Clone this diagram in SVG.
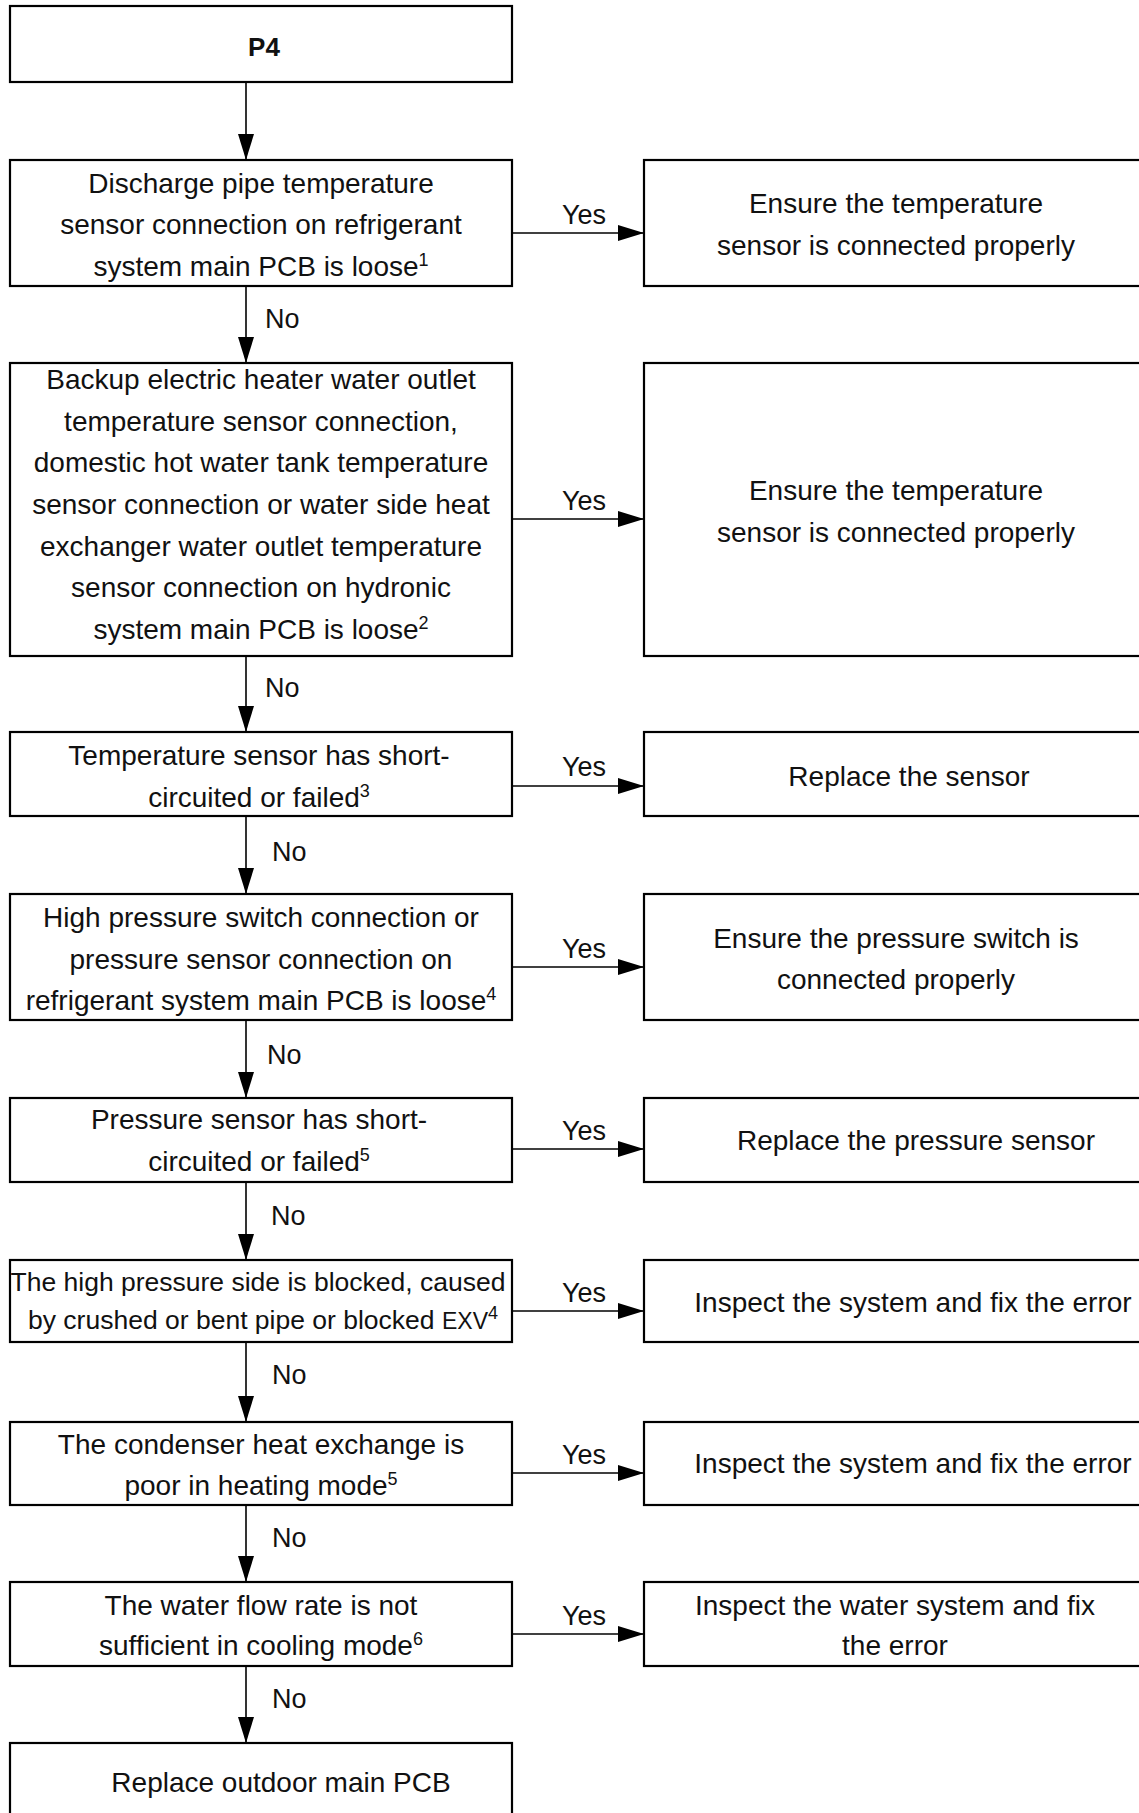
<svg xmlns="http://www.w3.org/2000/svg" width="1139" height="1813" viewBox="0 0 1139 1813">
<defs>
<style>
.box{fill:#fff;stroke:#000;stroke-width:2.2}
.t{font-family:"Liberation Sans",Arial,sans-serif;font-size:28px;fill:#111;text-anchor:middle}
.lbl{font-family:"Liberation Sans",Arial,sans-serif;font-size:27px;fill:#111}
.yes{text-anchor:middle}
.ln{stroke:#000;stroke-width:1.6;fill:none}
.sup{font-size:18px}
</style>
<marker id="ah" viewBox="0 0 26 16" refX="26" refY="8" markerWidth="26" markerHeight="16" markerUnits="userSpaceOnUse" orient="auto">
<path d="M0,0 L26,8 L0,16 Z" fill="#000"/>
</marker>
</defs>
<rect width="1139" height="1813" fill="#fff"/>

<g id="connectors">
<line class="ln" x1="246" y1="82" x2="246" y2="160" marker-end="url(#ah)"/>
<line class="ln" x1="246" y1="286" x2="246" y2="363" marker-end="url(#ah)"/>
<line class="ln" x1="246" y1="656" x2="246" y2="732" marker-end="url(#ah)"/>
<line class="ln" x1="246" y1="816" x2="246" y2="894" marker-end="url(#ah)"/>
<line class="ln" x1="246" y1="1020" x2="246" y2="1098" marker-end="url(#ah)"/>
<line class="ln" x1="246" y1="1182" x2="246" y2="1260" marker-end="url(#ah)"/>
<line class="ln" x1="246" y1="1342" x2="246" y2="1422" marker-end="url(#ah)"/>
<line class="ln" x1="246" y1="1505" x2="246" y2="1582" marker-end="url(#ah)"/>
<line class="ln" x1="246" y1="1666" x2="246" y2="1743" marker-end="url(#ah)"/>
<line class="ln" x1="512" y1="233" x2="644" y2="233" marker-end="url(#ah)"/>
<line class="ln" x1="512" y1="519" x2="644" y2="519" marker-end="url(#ah)"/>
<line class="ln" x1="512" y1="786" x2="644" y2="786" marker-end="url(#ah)"/>
<line class="ln" x1="512" y1="967" x2="644" y2="967" marker-end="url(#ah)"/>
<line class="ln" x1="512" y1="1149" x2="644" y2="1149" marker-end="url(#ah)"/>
<line class="ln" x1="512" y1="1311" x2="644" y2="1311" marker-end="url(#ah)"/>
<line class="ln" x1="512" y1="1473" x2="644" y2="1473" marker-end="url(#ah)"/>
<line class="ln" x1="512" y1="1634" x2="644" y2="1634" marker-end="url(#ah)"/>
<text class="lbl yes" x="584" y="224">Yes</text>
<text class="lbl yes" x="584" y="510">Yes</text>
<text class="lbl yes" x="584" y="776">Yes</text>
<text class="lbl yes" x="584" y="958">Yes</text>
<text class="lbl yes" x="584" y="1140">Yes</text>
<text class="lbl yes" x="584" y="1302">Yes</text>
<text class="lbl yes" x="584" y="1464">Yes</text>
<text class="lbl yes" x="584" y="1625">Yes</text>
<text class="lbl" x="265" y="328">No</text>
<text class="lbl" x="265" y="697">No</text>
<text class="lbl" x="272" y="861">No</text>
<text class="lbl" x="267" y="1064">No</text>
<text class="lbl" x="271" y="1225">No</text>
<text class="lbl" x="272" y="1384">No</text>
<text class="lbl" x="272" y="1547">No</text>
<text class="lbl" x="272" y="1708">No</text>
</g>

<g id="p4">
<rect class="box" x="10" y="6" width="502" height="76"/>
<text class="t" x="264" y="56" style="font-weight:bold;font-size:26px">P4</text>
</g>

<g id="q1">
<rect class="box" x="10" y="160" width="502" height="126"/>
<text class="t" x="261" y="193">Discharge pipe temperature</text>
<text class="t" x="261" y="234">sensor connection on refrigerant</text>
<text class="t" x="261" y="276">system main PCB is loose<tspan class="sup" dy="-10">1</tspan></text>
</g>
<g id="a1">
<rect class="box" x="644" y="160" width="520" height="126"/>
<text class="t" x="896" y="213">Ensure the temperature</text>
<text class="t" x="896" y="255">sensor is connected properly</text>
</g>

<g id="q2">
<rect class="box" x="10" y="363" width="502" height="293"/>
<text class="t" x="261" y="389">Backup electric heater water outlet</text>
<text class="t" x="261" y="431">temperature sensor connection,</text>
<text class="t" x="261" y="472">domestic hot water tank temperature</text>
<text class="t" x="261" y="514">sensor connection or water side heat</text>
<text class="t" x="261" y="556">exchanger water outlet temperature</text>
<text class="t" x="261" y="597">sensor connection on hydronic</text>
<text class="t" x="261" y="639">system main PCB is loose<tspan class="sup" dy="-10">2</tspan></text>
</g>
<g id="a2">
<rect class="box" x="644" y="363" width="520" height="293"/>
<text class="t" x="896" y="500">Ensure the temperature</text>
<text class="t" x="896" y="542">sensor is connected properly</text>
</g>

<g id="q3">
<rect class="box" x="10" y="732" width="502" height="84"/>
<text class="t" x="259" y="765">Temperature sensor has short-</text>
<text class="t" x="259" y="807">circuited or failed<tspan class="sup" dy="-10">3</tspan></text>
</g>
<g id="a3">
<rect class="box" x="644" y="732" width="520" height="84"/>
<text class="t" x="909" y="786">Replace the sensor</text>
</g>

<g id="q4">
<rect class="box" x="10" y="894" width="502" height="126"/>
<text class="t" x="261" y="927">High pressure switch connection or</text>
<text class="t" x="261" y="969">pressure sensor connection on</text>
<text class="t" x="261" y="1010">refrigerant system main PCB is loose<tspan class="sup" dy="-10">4</tspan></text>
</g>
<g id="a4">
<rect class="box" x="644" y="894" width="520" height="126"/>
<text class="t" x="896" y="948">Ensure the pressure switch is</text>
<text class="t" x="896" y="989">connected properly</text>
</g>

<g id="q5">
<rect class="box" x="10" y="1098" width="502" height="84"/>
<text class="t" x="259" y="1129">Pressure sensor has short-</text>
<text class="t" x="259" y="1171">circuited or failed<tspan class="sup" dy="-10">5</tspan></text>
</g>
<g id="a5">
<rect class="box" x="644" y="1098" width="520" height="84"/>
<text class="t" x="916" y="1150">Replace the pressure sensor</text>
</g>

<g id="q6">
<rect class="box" x="10" y="1260" width="502" height="82"/>
<text class="t" x="258" y="1291" style="font-size:26.5px">The high pressure side is blocked, caused</text>
<text class="t" x="263" y="1329" style="font-size:26.5px">by crushed or bent pipe or blocked <tspan style="font-size:23px">EXV</tspan><tspan class="sup" dy="-10">4</tspan></text>
</g>
<g id="a6">
<rect class="box" x="644" y="1260" width="520" height="82"/>
<text class="t" x="913" y="1312">Inspect the system and fix the error</text>
</g>

<g id="q7">
<rect class="box" x="10" y="1422" width="502" height="83"/>
<text class="t" x="261" y="1454">The condenser heat exchange is</text>
<text class="t" x="261" y="1495">poor in heating mode<tspan class="sup" dy="-10">5</tspan></text>
</g>
<g id="a7">
<rect class="box" x="644" y="1422" width="520" height="83"/>
<text class="t" x="913" y="1473">Inspect the system and fix the error</text>
</g>

<g id="q8">
<rect class="box" x="10" y="1582" width="502" height="84"/>
<text class="t" x="261" y="1615">The water flow rate is not</text>
<text class="t" x="261" y="1655">sufficient in cooling mode<tspan class="sup" dy="-10">6</tspan></text>
</g>
<g id="a8">
<rect class="box" x="644" y="1582" width="520" height="84"/>
<text class="t" x="895" y="1615">Inspect the water system and fix</text>
<text class="t" x="895" y="1655">the error</text>
</g>

<g id="end">
<rect class="box" x="10" y="1743" width="502" height="100"/>
<text class="t" x="281" y="1792">Replace outdoor main PCB</text>
</g>
</svg>
